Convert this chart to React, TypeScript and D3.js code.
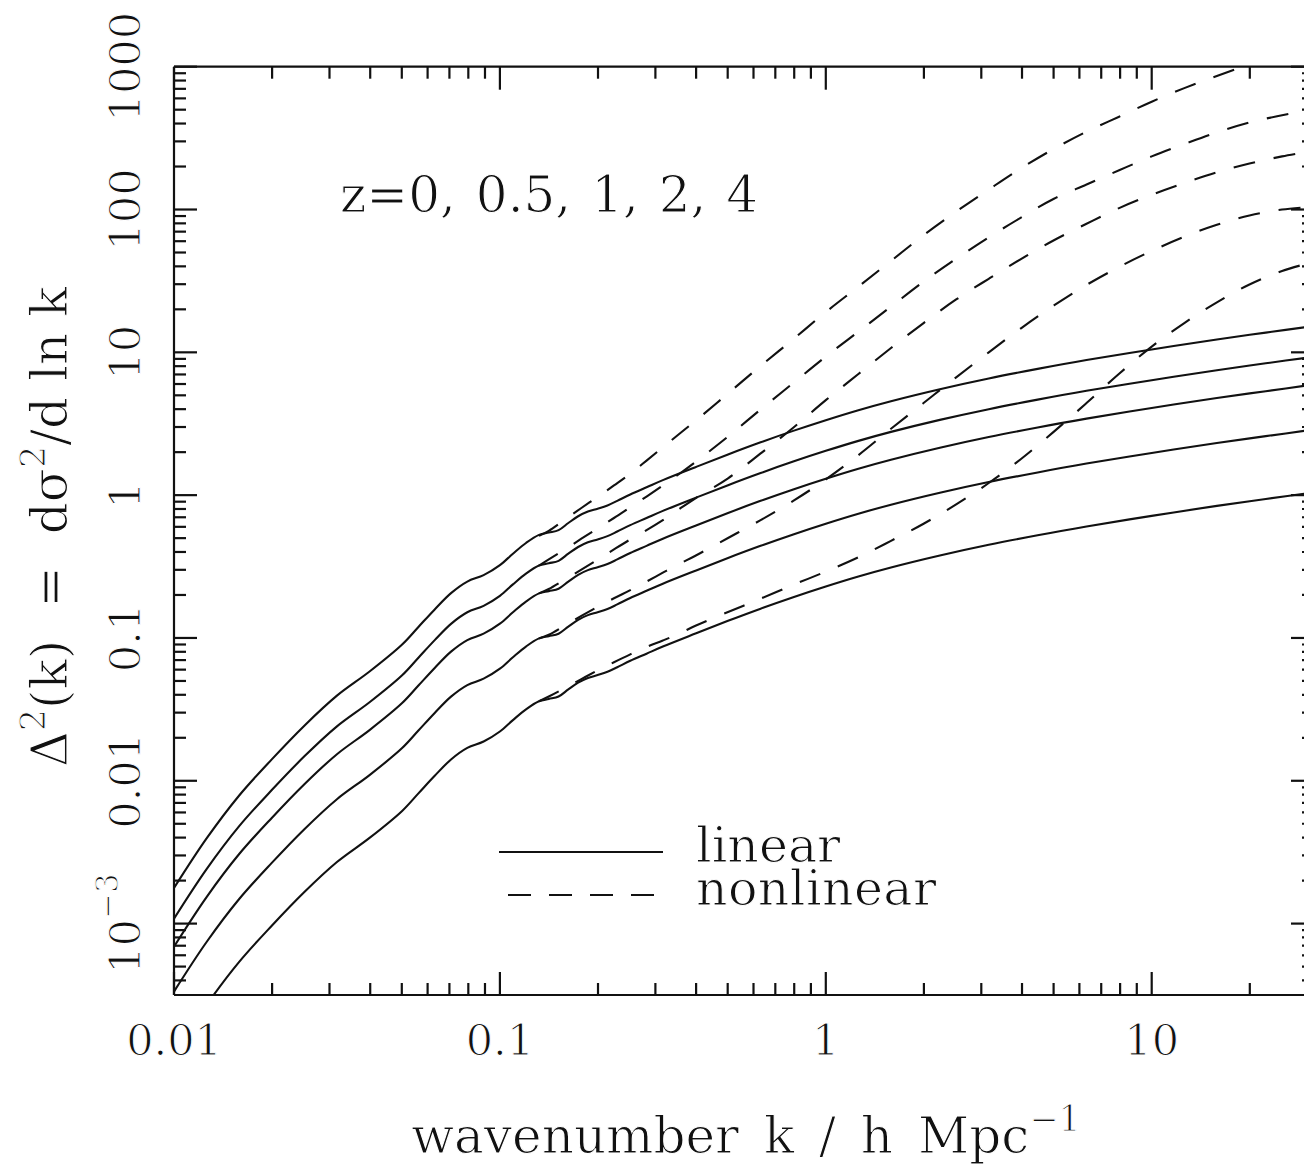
import React from "react";
import * as d3 from "d3";

// Sample points, log10(k / h Mpc^-1), for the linear curves
const LOGK_LIN = [-2.0, -1.9, -1.8, -1.7, -1.6, -1.5, -1.4, -1.3, -1.25, -1.2, -1.15, -1.1, -1.05, -1.0, -0.96, -0.92, -0.88, -0.85, -0.82, -0.79, -0.76, -0.73, -0.70, -0.67, -0.64, -0.60, -0.55, -0.50, -0.40, -0.30, -0.20, -0.10, 0.0, 0.1, 0.2, 0.35, 0.5, 0.65, 0.8, 1.0, 1.2, 1.35, 1.5];

// log10 Delta^2(k), linear theory, z = 0, 0.5, 1, 2, 4
const LIN_Z0 = [-2.751, -2.404, -2.103, -1.850, -1.614, -1.404, -1.235, -1.046, -0.923, -0.800, -0.686, -0.605, -0.560, -0.490, -0.410, -0.335, -0.278, -0.262, -0.245, -0.195, -0.148, -0.115, -0.095, -0.072, -0.040, 0.005, 0.055, 0.105, 0.196, 0.285, 0.370, 0.450, 0.525, 0.595, 0.658, 0.742, 0.817, 0.884, 0.946, 1.020, 1.090, 1.138, 1.185];
const LIN_Z05 = [-2.966, -2.619, -2.318, -2.065, -1.829, -1.619, -1.450, -1.261, -1.138, -1.015, -0.901, -0.820, -0.775, -0.705, -0.625, -0.550, -0.493, -0.477, -0.460, -0.410, -0.363, -0.330, -0.310, -0.287, -0.255, -0.210, -0.160, -0.110, -0.019, 0.070, 0.155, 0.235, 0.310, 0.380, 0.443, 0.527, 0.602, 0.669, 0.731, 0.805, 0.875, 0.923, 0.970];
const LIN_Z1 = [-3.161, -2.814, -2.513, -2.260, -2.024, -1.814, -1.645, -1.456, -1.333, -1.210, -1.096, -1.015, -0.970, -0.900, -0.820, -0.745, -0.688, -0.672, -0.655, -0.605, -0.558, -0.525, -0.505, -0.482, -0.450, -0.405, -0.355, -0.305, -0.214, -0.125, -0.040, 0.040, 0.115, 0.185, 0.248, 0.332, 0.407, 0.474, 0.536, 0.610, 0.680, 0.728, 0.775];
const LIN_Z2 = [-3.476, -3.129, -2.828, -2.575, -2.339, -2.129, -1.960, -1.771, -1.648, -1.525, -1.411, -1.330, -1.285, -1.215, -1.135, -1.060, -1.003, -0.987, -0.970, -0.920, -0.873, -0.840, -0.820, -0.797, -0.765, -0.720, -0.670, -0.620, -0.529, -0.440, -0.355, -0.275, -0.200, -0.130, -0.067, 0.017, 0.092, 0.159, 0.221, 0.295, 0.365, 0.413, 0.460];
const LIN_Z4 = [-3.916, -3.569, -3.268, -3.015, -2.779, -2.569, -2.400, -2.211, -2.088, -1.965, -1.851, -1.770, -1.725, -1.655, -1.575, -1.500, -1.443, -1.427, -1.410, -1.360, -1.313, -1.280, -1.260, -1.237, -1.205, -1.160, -1.110, -1.060, -0.969, -0.880, -0.795, -0.715, -0.640, -0.570, -0.507, -0.423, -0.348, -0.281, -0.219, -0.145, -0.075, -0.027, 0.020];

// Sample points for the nonlinear curves
const LOGK_NL = [-0.88, -0.85, -0.80, -0.75, -0.70, -0.65, -0.60, -0.55, -0.50, -0.45, -0.40, -0.30, -0.20, -0.10, 0.0, 0.1, 0.2, 0.3, 0.4, 0.5, 0.6, 0.7, 0.8, 0.9, 1.0, 1.1, 1.2, 1.3, 1.4, 1.5];
const NL_Z0 = [-0.285, -0.250, -0.170, -0.090, -0.012, 0.068, 0.150, 0.242, 0.335, 0.428, 0.520, 0.712, 0.905, 1.092, 1.282, 1.460, 1.640, 1.820, 1.985, 2.140, 2.290, 2.425, 2.545, 2.650, 2.755, 2.850, 2.935, 3.015, 3.085, 3.150];
const NL_Z05 = [-0.493, -0.450, -0.380, -0.305, -0.232, -0.160, -0.085, -0.010, 0.068, 0.148, 0.232, 0.410, 0.600, 0.785, 0.970, 1.145, 1.320, 1.495, 1.655, 1.805, 1.945, 2.075, 2.175, 2.275, 2.372, 2.458, 2.540, 2.610, 2.660, 2.705];
const NL_Z1 = [-0.688, -0.657, -0.590, -0.522, -0.452, -0.380, -0.310, -0.245, -0.175, -0.098, -0.022, 0.118, 0.292, 0.472, 0.665, 0.848, 1.030, 1.205, 1.370, 1.515, 1.655, 1.785, 1.900, 2.010, 2.103, 2.185, 2.260, 2.322, 2.372, 2.412];
const NL_Z2 = [-1.003, -0.978, -0.913, -0.846, -0.782, -0.722, -0.665, -0.605, -0.543, -0.482, -0.424, -0.300, -0.175, -0.040, 0.110, 0.280, 0.465, 0.645, 0.825, 1.000, 1.170, 1.328, 1.472, 1.598, 1.710, 1.810, 1.893, 1.958, 2.000, 2.020];
const NL_Z4 = [-1.443, -1.410, -1.350, -1.288, -1.227, -1.170, -1.115, -1.063, -1.018, -0.970, -0.915, -0.818, -0.725, -0.628, -0.535, -0.435, -0.320, -0.200, -0.065, 0.085, 0.255, 0.445, 0.645, 0.850, 1.040, 1.205, 1.350, 1.475, 1.570, 1.635];

const LINEAR_SERIES = [LIN_Z0, LIN_Z05, LIN_Z1, LIN_Z2, LIN_Z4];
const NONLINEAR_SERIES = [NL_Z0, NL_Z05, NL_Z1, NL_Z2, NL_Z4];

const X_TICKS = [0.01, 0.1, 1, 10];
const X_TICK_LABELS = ["0.01", "0.1", "1", "10"];
const Y_TICKS = [0.001, 0.01, 0.1, 1, 10, 100, 1000];
const Y_TICK_LABELS = ["10^-3", "0.01", "0.1", "1", "10", "100", "1000"];

const ANNOTATION = "z=0, 0.5, 1, 2, 4";
const LEGEND = ["linear", "nonlinear"];

const W = 1304;
const H = 1165;
const L = 174, R = 1314, T = 66.7, B = 995;
const INK = "#111";
const FONT = "DejaVu Serif";

export default function App() {
  const x = d3.scaleLog().domain([0.01, Math.pow(10, 1.498)]).range([L, R]);
  const y = d3.scaleLog().domain([Math.pow(10, -3.5), 1000]).range([B, T]);

  const line = d3
    .line<[number, number]>()
    .x((d) => x(Math.pow(10, d[0])))
    .y((d) => y(Math.pow(10, d[1])))
    .curve(d3.curveCatmullRom.alpha(0.5));

  const isMajor = (t: number) => Math.abs(Math.log10(t) - Math.round(Math.log10(t))) < 1e-6;
  const xt = x.ticks();
  const yt = y.ticks();

  const majorLen = 23, minorLen = 12;
  const thin = { stroke: "#fff", strokeWidth: 1.1 };

  return (
    <svg width={W} height={H} style={{ position: "absolute", left: 0, top: 0, background: "#fff" }} fontFamily={FONT}>
      <defs>
        <clipPath id="plot">
          <rect x={L} y={T} width={R - L} height={B - T} />
        </clipPath>
      </defs>
      <rect x={0} y={0} width={W} height={H} fill="#fff" />

      <g clipPath="url(#plot)" fill="none" stroke={INK} strokeWidth={2.1}>
        {LINEAR_SERIES.map((s, i) => (
          <path key={"l" + i} d={line(LOGK_LIN.map((k, j) => [k, s[j]]) as [number, number][]) || ""} />
        ))}
        {NONLINEAR_SERIES.map((s, i) => (
          <path key={"n" + i} strokeDasharray="22 19" d={line(LOGK_NL.map((k, j) => [k, s[j]]) as [number, number][]) || ""} />
        ))}
      </g>

      {/* frame */}
      <g stroke={INK} strokeWidth={2.2} fill="none">
        <line x1={L} y1={T} x2={R} y2={T} />
        <line x1={L} y1={B} x2={R} y2={B} />
        <line x1={L} y1={T} x2={L} y2={B} />
        <line x1={R} y1={T} x2={R} y2={B} />
        {xt.map((t, i) => {
          const len = isMajor(t) ? majorLen : minorLen;
          const px = x(t);
          return (
            <g key={"xt" + i}>
              <line x1={px} y1={B} x2={px} y2={B - len} />
              <line x1={px} y1={T} x2={px} y2={T + len} />
            </g>
          );
        })}
        {yt.map((t, i) => {
          const len = isMajor(t) ? majorLen : minorLen;
          const py = y(t);
          return (
            <g key={"yt" + i}>
              <line x1={L} y1={py} x2={L + len} y2={py} />
              <line x1={R} y1={py} x2={R - len} y2={py} />
            </g>
          );
        })}
      </g>

      {/* tick labels */}
      <g fill={INK} fontSize={43} {...thin}>
        {X_TICKS.map((t, i) => (
          <text key={"xl" + i} x={x(t)} y={1055} textAnchor="middle">
            {X_TICK_LABELS[i]}
          </text>
        ))}
        {Y_TICKS.map((t, i) => {
          const lab = Y_TICK_LABELS[i];
          const parts = lab.split("^");
          return (
            <text key={"yl" + i} transform={`translate(140,${y(t)}) rotate(-90)`} textAnchor="middle">
              {parts.length === 2 ? (
                <>
                  <tspan>{parts[0]}</tspan>
                  <tspan dy={-22} fontSize={31}>{parts[1].replace("-", "\u2212")}</tspan>
                </>
              ) : (
                lab
              )}
            </text>
          );
        })}
      </g>

      {/* axis titles */}
      <g fill={INK} fontSize={50} {...thin}>
        <text x={746} y={1153} textAnchor="middle" wordSpacing={9}>
          <tspan>wavenumber k / h Mpc</tspan>
          <tspan dy={-22} fontSize={35}>{"\u22121"}</tspan>
        </text>
        <text transform="translate(67,527) rotate(-90)" textAnchor="middle" xmlSpace="preserve">
          <tspan>{"\u0394"}</tspan>
          <tspan dy={-22} fontSize={35}>2</tspan>
          <tspan dy={22}>{"(k)  =  d\u03c3"}</tspan>
          <tspan dy={-22} fontSize={35}>2</tspan>
          <tspan dy={22}>{"/d ln k"}</tspan>
        </text>
        <text x={340} y={212} wordSpacing={4}>{ANNOTATION}</text>
      </g>

      {/* legend */}
      <g stroke={INK} strokeWidth={2.1}>
        <line x1={499} y1={852} x2={663} y2={852} />
        <line x1={508} y1={895} x2={654} y2={895} strokeDasharray="23 18" />
      </g>
      <g fill={INK} fontSize={49} {...thin}>
        <text x={696} y={862}>{LEGEND[0]}</text>
        <text x={696} y={905} letterSpacing={0.4}>{LEGEND[1]}</text>
      </g>
    </svg>
  );
}
